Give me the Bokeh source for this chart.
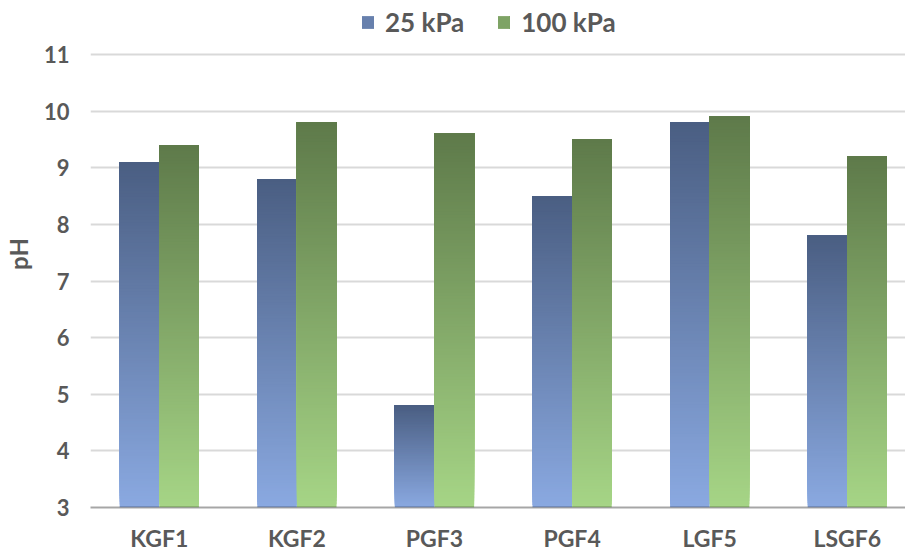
from bokeh.plotting import figure
from bokeh.models import Range1d, FixedTicker, Legend, LegendItem
from bokeh.embed import file_html
from bokeh.resources import INLINE

# pH of each sample at two loading pressures
samples = ["KGF1", "KGF2", "PGF3", "PGF4", "LGF5", "LSGF6"]
ph_25kpa = [9.1, 8.8, 4.8, 8.5, 9.8, 7.8]
ph_100kpa = [9.4, 9.8, 9.6, 9.5, 9.9, 9.2]
series_names = ["25 kPa", "100 kPa"]
y_ticks = [3, 4, 5, 6, 7, 8, 9, 10, 11]

Y_MIN = 3
Y_TOP = 11.954          # headroom above 11 leaves space for the legend
BAR_W = 0.288
N_SLICES = 120

# gradient end colours (bottom, top) for each series
blue_grad = ((0x8A, 0xA9, 0xE1), (0x4A, 0x5E, 0x82))
green_grad = ((0xA6, 0xD5, 0x86), (0x5E, 0x7A, 0x4A))

FONT = "Lato"
TXT = "#595959"

p = figure(width=905, height=554, output_backend="svg", toolbar_location=None,
           x_range=Range1d(0, 5.923), y_range=Range1d(Y_MIN, Y_TOP),
           min_border_left=90, min_border_right=0, min_border_top=0,
           min_border_bottom=47)
p.outline_line_color = None
p.background_fill_color = "white"
p.border_fill_color = "white"


def mix(c0, c1, t):
    return "#%02x%02x%02x" % tuple(int(round(a + (b - a) * t)) for a, b in zip(c0, c1))


def gradient_bars(values, offset, grad):
    # each bar is a stack of overlapping quads, every one reaching the bar's
    # top, so later (darker) ones paint over the upper part of earlier ones
    left, right, bottom, top, colors = [], [], [], [], []
    for k in range(N_SLICES):
        for i, v in enumerate(values):
            cx = i + 0.5
            h = v - Y_MIN
            left.append(cx + offset)
            right.append(cx + offset + BAR_W)
            bottom.append(Y_MIN + h * k / N_SLICES)
            top.append(v)
            colors.append(mix(grad[0], grad[1], (k + 0.5) / N_SLICES))
    return p.quad(left=left, right=right, bottom=bottom, top=top,
                  fill_color=colors, line_color=None)


gradient_bars(ph_25kpa, -BAR_W, blue_grad)
gradient_bars(ph_100kpa, 0.0, green_grad)

# legend swatches (zero-size, only their style is shown in the legend)
sw25 = p.quad(left=[0], right=[0], bottom=[3], top=[3],
              fill_color=mix(blue_grad[0], blue_grad[1], 0.55), line_color=None)
sw100 = p.quad(left=[0], right=[0], bottom=[3], top=[3],
               fill_color=mix(green_grad[0], green_grad[1], 0.55), line_color=None)

# axes
p.yaxis.ticker = FixedTicker(ticks=y_ticks)
p.yaxis.axis_line_color = None
p.yaxis.major_tick_line_color = None
p.yaxis.minor_tick_line_color = None
p.yaxis.major_label_text_font = FONT
p.yaxis.major_label_text_font_style = "bold"
p.yaxis.major_label_text_font_size = "22px"
p.yaxis.major_label_text_color = TXT
p.yaxis.major_label_standoff = 15
p.yaxis.axis_label = "pH"
p.yaxis.axis_label_text_font = FONT
p.yaxis.axis_label_text_font_style = "bold"
p.yaxis.axis_label_text_font_size = "24px"
p.yaxis.axis_label_text_color = TXT
p.yaxis.axis_label_standoff = 8

p.xaxis.ticker = FixedTicker(ticks=[i + 0.5 for i in range(len(samples))])
p.xaxis.major_label_overrides = {i + 0.5: s for i, s in enumerate(samples)}
p.xaxis.axis_line_color = "black"
p.xaxis.axis_line_alpha = 0.35
p.xaxis.axis_line_width = 2
p.xaxis.major_tick_line_color = None
p.xaxis.minor_tick_line_color = None
p.xaxis.major_label_text_font = FONT
p.xaxis.major_label_text_font_style = "bold"
p.xaxis.major_label_text_font_size = "23px"
p.xaxis.major_label_text_color = TXT
p.xaxis.major_label_standoff = 10

p.xgrid.grid_line_color = None
p.ygrid.grid_line_color = "#d9d9d9"
p.ygrid.grid_line_width = 2
p.ygrid.ticker = FixedTicker(ticks=y_ticks[1:])

legend = Legend(items=[LegendItem(label=series_names[0], renderers=[sw25]),
                       LegendItem(label=series_names[1], renderers=[sw100])],
                orientation="horizontal", location=(270, 469),
                label_text_font=FONT, label_text_font_style="bold",
                label_text_font_size="26px", label_text_color=TXT,
                glyph_width=15, glyph_height=16, label_standoff=10,
                spacing=32, padding=0, margin=0,
                border_line_color=None, background_fill_alpha=0)
p.add_layout(legend, "center")

open("out.html", "w").write(file_html(p, INLINE))
